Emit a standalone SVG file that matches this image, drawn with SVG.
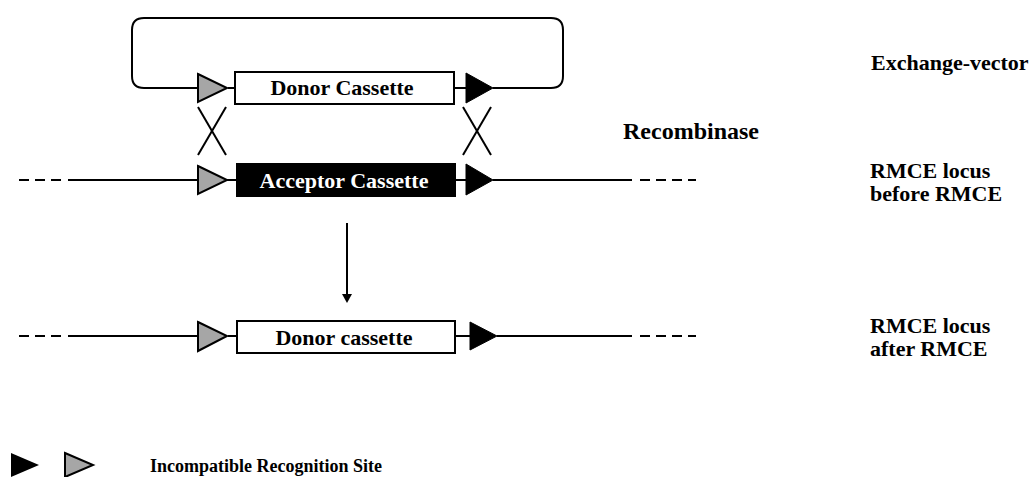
<svg xmlns="http://www.w3.org/2000/svg" width="1031" height="477" viewBox="0 0 1031 477">
<style>
.ln{stroke:#000;stroke-width:2;fill:none}
.dash{stroke:#000;stroke-width:2;fill:none;stroke-dasharray:10 6}
.gray{fill:#a6a6a6;stroke:#000;stroke-width:2;stroke-linejoin:miter}
.blk{fill:#000;stroke:#000;stroke-width:1}
.box{fill:#fff;stroke:#000;stroke-width:2}
.boxb{fill:#000;stroke:#000;stroke-width:2}
.t{font-family:"Liberation Serif","Times New Roman",serif;font-weight:bold;fill:#000}
</style>
<rect width="1031" height="477" fill="#fff"/>
<g id="connectors">
  <path class="ln" d="M197,88 H144 Q132,88 132,76 V30 Q132,18 144,18 H551 Q563,18 563,30 V76 Q563,88 551,88 H493"/>
  <line class="ln" x1="228" y1="88" x2="235" y2="88"/>
  <line class="ln" x1="454" y1="88" x2="466" y2="88"/>
  <line class="ln" x1="198" y1="107" x2="226" y2="155"/>
  <line class="ln" x1="226" y1="107" x2="198" y2="155"/>
  <line class="ln" x1="463" y1="107" x2="491" y2="155"/>
  <line class="ln" x1="491" y1="107" x2="463" y2="155"/>
  <line class="dash" x1="19" y1="180" x2="66" y2="180"/>
  <line class="ln" x1="68" y1="180" x2="197" y2="180"/>
  <line class="ln" x1="227" y1="180" x2="237" y2="180"/>
  <line class="ln" x1="455" y1="180" x2="466" y2="180"/>
  <line class="ln" x1="493" y1="180" x2="632" y2="180"/>
  <line class="dash" x1="640" y1="180" x2="696" y2="180"/>
  <line class="ln" x1="347" y1="223" x2="347" y2="296"/>
  <polygon points="342,294 352,294 347,303" fill="#000"/>
  <line class="dash" x1="19" y1="336" x2="66" y2="336"/>
  <line class="ln" x1="68" y1="336" x2="197" y2="336"/>
  <line class="ln" x1="228" y1="336" x2="237" y2="336"/>
  <line class="ln" x1="455" y1="336" x2="470" y2="336"/>
  <line class="ln" x1="497" y1="336" x2="632" y2="336"/>
  <line class="dash" x1="640" y1="336" x2="696" y2="336"/>
</g>
<g id="exchange-vector">
  <polygon class="gray" points="198,74 227,88 198,102"/>
  <rect class="box" x="235" y="72" width="219" height="32"/>
  <text class="t" x="342" y="95" font-size="22" text-anchor="middle">Donor Cassette</text>
  <polygon class="blk" points="466,73 493,88 466,103"/>
</g>
<g id="acceptor-locus">
  <polygon class="gray" points="198,166 227,180 198,194"/>
  <rect class="boxb" x="237" y="164" width="218" height="32"/>
  <text class="t" x="344" y="188" font-size="22" text-anchor="middle" fill="#fff" style="fill:#fff">Acceptor Cassette</text>
  <polygon class="blk" points="466,164 493,180 466,195"/>
</g>
<g id="donor-locus">
  <polygon class="gray" points="198,322 227,336 198,351"/>
  <rect class="box" x="237" y="321" width="218" height="32"/>
  <text class="t" x="344" y="345" font-size="22" text-anchor="middle">Donor cassette</text>
  <polygon class="blk" points="470,322 497,336 470,350"/>
</g>
<g id="labels">
  <text class="t" x="623" y="139" font-size="24">Recombinase</text>
  <text class="t" x="871" y="70" font-size="22">Exchange-vector</text>
  <text class="t" x="870" y="178" font-size="22">RMCE locus</text>
  <text class="t" x="870" y="201" font-size="22">before RMCE</text>
  <text class="t" x="870" y="333" font-size="22">RMCE locus</text>
  <text class="t" x="870" y="356" font-size="22">after RMCE</text>
</g>
<g id="legend">
  <polygon points="11,453 39,465 11,477" fill="#000"/>
  <polygon class="gray" points="65,453 93,465 65,477"/>
  <text class="t" x="150" y="472" font-size="18">Incompatible Recognition Site</text>
</g>
</svg>
